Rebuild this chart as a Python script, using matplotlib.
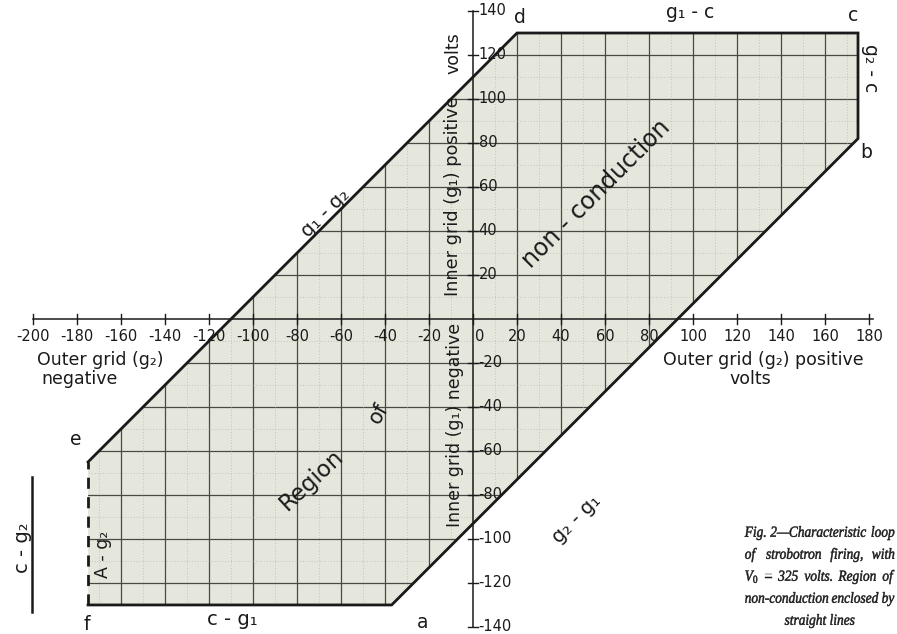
import matplotlib
matplotlib.use("Agg")
import matplotlib.pyplot as plt
from matplotlib.patches import Polygon, PathPatch
from matplotlib.textpath import TextPath
from matplotlib.font_manager import FontProperties
import matplotlib.transforms as mtrans
import numpy as np

plt.rcParams["mathtext.fontset"] = "custom"
plt.rcParams["mathtext.rm"] = "Liberation Serif"
plt.rcParams["mathtext.it"] = "Liberation Serif:italic"

# ---- data ----
vertex_names = ["d", "c", "b", "a", "f", "e"]
vertex_x = [20, 175, 175, -37, -175, -175]
vertex_y = [130, 130, 82, -130, -130, -65]
x_ticks = [-200, -180, -160, -140, -120, -100, -80, -60, -40, -20, 0, 20, 40, 60, 80, 100, 120, 140, 160, 180]
y_ticks = [-140, -120, -100, -80, -60, -40, -20, 20, 40, 60, 80, 100, 120, 140]
grid_x = [-160, -140, -120, -100, -80, -60, -40, -20, 20, 40, 60, 80, 100, 120, 140, 160]
grid_y = [-120, -100, -80, -60, -40, -20, 20, 40, 60, 80, 100, 120]

fig = plt.figure(figsize=(8.97, 6.34), dpi=100)
ax = fig.add_axes([0, 0, 1, 1])
ax.set_xlim(-215, 192.7)
ax.set_ylim(-143.2, 145)
ax.set_aspect("equal")
ax.axis("off")

SANS = ["DejaVu Sans"]
ink = "#1a1a1a"

# region polygon
pts = np.column_stack([vertex_x, vertex_y])
poly = Polygon(pts, closed=True, facecolor="#e5e6dc", edgecolor="none", zorder=1)
ax.add_patch(poly)

# grid inside polygon
for gx in grid_x:
    ln, = ax.plot([gx, gx], [-145, 145], color="#4a4a44", lw=0.9, zorder=2)
    ln.set_clip_path(poly)
for gy in grid_y:
    ln, = ax.plot([-215, 195], [gy, gy], color="#4a4a44", lw=0.9, zorder=2)
    ln.set_clip_path(poly)
for gx in np.arange(-170, 180, 20):
    ln, = ax.plot([gx, gx], [-145, 145], color="#a5a59b", lw=0.5, ls=(0, (1, 3)), zorder=2)
    ln.set_clip_path(poly)
for gy in np.arange(-130, 140, 20):
    ln, = ax.plot([-215, 195], [gy, gy], color="#a5a59b", lw=0.5, ls=(0, (1, 3)), zorder=2)
    ln.set_clip_path(poly)

# polygon edges
solid_order = [5, 0, 1, 2, 3, 4]  # e -> d -> c -> b -> a -> f
ax.plot([vertex_x[i] for i in solid_order], [vertex_y[i] for i in solid_order],
        color=ink, lw=2.0, solid_joinstyle="miter", zorder=4)
ax.plot([vertex_x[4], vertex_x[5]], [vertex_y[4], vertex_y[5]],
        color=ink, lw=2.0, ls=(0, (4, 3)), zorder=4)

# axes
ax.plot([x_ticks[0], 182], [0, 0], color=ink, lw=1.1, zorder=3)
ax.plot([0, 0], [y_ticks[0], y_ticks[-1]], color=ink, lw=1.1, zorder=3)
for t in x_ticks:
    ax.plot([t, t], [-2.3, 2.3], color=ink, lw=1.0, zorder=3)
    xt = 3 if t == 0 else t
    ax.text(xt, -8, f"{t}", ha="center", va="center", fontsize=10.5, family=SANS, color=ink, zorder=5)
for t in y_ticks:
    ax.plot([-2.3, 2.3], [t, t], color=ink, lw=1.0, zorder=3)
    ax.text(2.5, t, f"{t}", ha="left", va="center", fontsize=10.5, family=SANS, color=ink, zorder=5)

# axis titles
ax.text(-198, -18.6, "Outer grid (g₂)", ha="left", va="center", fontsize=12.5, family=SANS, color=ink)
ax.text(-196, -27.5, "negative", ha="left", va="center", fontsize=12.5, family=SANS, color=ink)
ax.text(86.5, -18.6, "Outer grid (g₂) positive", ha="left", va="center", fontsize=12.5, family=SANS, color=ink)
ax.text(126, -27.5, "volts", ha="center", va="center", fontsize=12.5, family=SANS, color=ink)
ax.text(-9, 56, "Inner grid (g₁) positive", ha="center", va="center", rotation=90, fontsize=12.8, family=SANS, color=ink, zorder=5)
ax.text(-9, 121, "volts", ha="center", va="center", rotation=90, fontsize=12.5, family=SANS, color=ink, zorder=5)
ax.text(-8, -48, "Inner grid (g₁) negative", ha="center", va="center", rotation=90, fontsize=12.5, family=SANS, color=ink, zorder=5)

# vertex letters
letter_pos = {"d": (21.5, 137), "c": (173, 138), "b": (178.5, 75.5), "a": (-23, -137.8),
              "f": (-175.5, -139), "e": (-180.5, -55)}
for name in vertex_names:
    lx, ly = letter_pos[name]
    ax.text(lx, ly, name, ha="center", va="center", fontsize=13.5, family=SANS, color=ink, zorder=5)

# edge labels
ax.text(98.6, 139.5, "g₁ - c", ha="center", va="center", fontsize=13.5, family=SANS, color=ink)
ax.text(180.5, 114, "g₂ - c", ha="center", va="center", rotation=-90, fontsize=13.5, family=SANS, color=ink)
ax.text(-67, 48, "g₁ - g₂", ha="center", va="center", rotation=45, fontsize=14, family=SANS, color=ink)
ax.text(47, -91, "g₂ - g₁", ha="center", va="center", rotation=45, fontsize=14, family=SANS, color=ink, zorder=5)
ax.text(-109.5, -136.5, "c - g₁", ha="center", va="center", fontsize=14, family=SANS, color=ink)
ax.text(-168, -107, "A - g₂", ha="center", va="center", rotation=90, fontsize=12.5, family=SANS, color=ink, zorder=5)
ax.text(-205, -104, "c - g₂", ha="center", va="center", rotation=90, fontsize=14, family=SANS, color=ink)
ax.plot([-200.5, -200.5], [-72, -133], color=ink, lw=1.8)

# region text
ax.text(56, 57, "non - conduction", ha="center", va="center", rotation=45, fontsize=17, family=SANS, color=ink, zorder=5)
ax.text(-73.6, -73, "Region", ha="center", va="center", rotation=43, fontsize=16.5, family=SANS, color=ink, zorder=5)
ax.text(-43, -43, "of", ha="center", va="center", rotation=60, fontsize=15, family=SANS, color=ink, zorder=5)

# caption: justified, slightly condensed italic serif drawn as text paths
cap_fp = FontProperties(family="Liberation Serif", style="italic")
cap_lines = [["Fig.", "2—Characteristic", "loop"],
             ["of", "strobotron", "firing,", "with"],
             [r"$V_0$", "=", "325", "volts.", "Region", "of"],
             ["non-conduction", "enclosed", "by"]]
cap_last = "straight lines"
cap_base = [-99.0, -109.0, -119.0, -129.0]
cap_left, cap_right = 123.5, 191.5
cap_size = 7.0
min_gap = 1.5

def path_of(word):
    tp = TextPath((0, 0), word, size=cap_size, prop=cap_fp)
    ext = tp.get_extents()
    return tp, ext.x1

line_paths = [[path_of(w) for w in words] for words in cap_lines]
avail = cap_right - cap_left
sx = 0.9
for lp in line_paths:
    tot = sum(w for _, w in lp)
    sx = min(sx, (avail - min_gap * (len(lp) - 1)) / tot)

def draw_path(tp, x, y):
    tr = mtrans.Affine2D().scale(sx, 1.0).translate(x, y) + ax.transData
    ax.add_patch(PathPatch(tp, transform=tr, facecolor=ink, edgecolor=ink, lw=0.35, zorder=6))

for lp, yb in zip(line_paths, cap_base):
    widths = [w * sx for _, w in lp]
    gap = (avail - sum(widths)) / max(len(lp) - 1, 1)
    xpos = cap_left
    for (tp, _), w in zip(lp, widths):
        draw_path(tp, xpos, yb)
        xpos += w + gap
tp, w = path_of(cap_last)
draw_path(tp, (cap_left + cap_right) / 2 - w * sx / 2, -139.0)

fig.savefig("out.png", dpi=100, facecolor="white")
